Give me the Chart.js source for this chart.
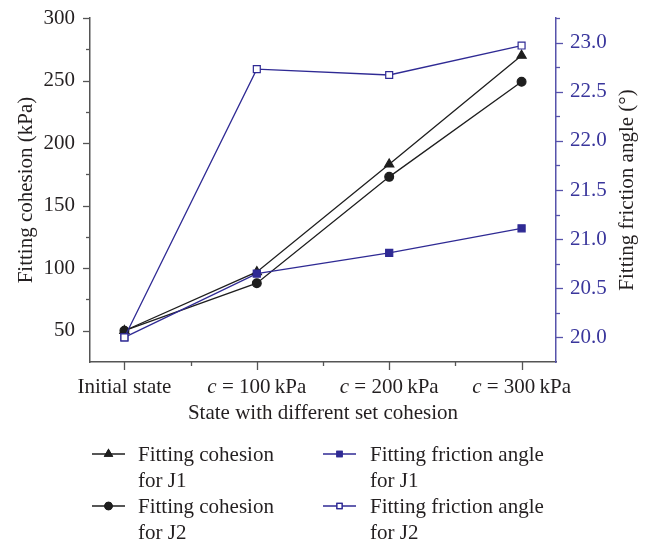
<!DOCTYPE html>
<html>
<head>
<meta charset="utf-8">
<script src="https://cdn.jsdelivr.net/npm/chart.js@4.4.0/dist/chart.umd.min.js"></script>
<style>
  html, body { margin: 0; padding: 0; background: #fff; }
  canvas { display: block; }
</style>
</head>
<body>
<canvas id="stateChart" width="649" height="541"></canvas>
<script>
// data
const categories = ['Initial state', 'c = 100\u2009kPa', 'c = 200\u2009kPa', 'c = 300\u2009kPa'];
const cohesionJ1 = [50, 97, 183, 270];
const cohesionJ2 = [50, 88, 173, 249];
const frictionJ1 = [20.0, 20.65, 20.86, 21.11];
const frictionJ2 = [20.0, 22.73, 22.67, 22.97];
const leftTicks = [25, 50, 75, 100, 125, 150, 175, 200, 225, 250, 275, 300];
const rightTicks = [19.75, 20, 20.25, 20.5, 20.75, 21, 21.25, 21.5, 21.75, 22, 22.25, 22.5, 22.75, 23, 23.25];
const legendLabels = [
  ['Fitting cohesion', 'for J1'],
  ['Fitting cohesion', 'for J2'],
  ['Fitting friction angle', 'for J1'],
  ['Fitting friction angle', 'for J2']
];

const BLACK = '#1e1e1e';
const BLUE = '#2f2a94';
const RIGHT_AXIS = '#5753ab';
const TEXT = '#231f20';
const FONT = '"Liberation Serif", "Times New Roman", serif';
const FS = 21;

Chart.defaults.font.family = FONT;
Chart.defaults.font.size = FS;
Chart.defaults.color = TEXT;

const toPoints = vals => vals.map((v, i) => ({ x: i, y: v }));
const isHalf = v => Math.abs(v * 2 - Math.round(v * 2)) < 1e-6;

// short minor ticks, longer major ticks, all pointing outward
const tickMarks = {
  id: 'tickMarks',
  afterDraw(chart) {
    const ctx = chart.ctx;
    const area = chart.chartArea;
    const { x, y, y1 } = chart.scales;
    ctx.save();
    ctx.lineWidth = 1.3;

    ctx.strokeStyle = '#555';
    y.ticks.forEach(t => {
      if (t.value <= y.min) return;
      const len = t.value % 50 === 0 ? 7 : 4;
      const py = Math.round(y.getPixelForValue(t.value)) + 0.5;
      ctx.beginPath(); ctx.moveTo(area.left, py); ctx.lineTo(area.left - len, py); ctx.stroke();
    });
    x.ticks.forEach(t => {
      const len = Number.isInteger(t.value) ? 8 : 4;
      const px = Math.round(x.getPixelForValue(t.value)) + 0.5;
      ctx.beginPath(); ctx.moveTo(px, area.bottom); ctx.lineTo(px, area.bottom + len); ctx.stroke();
    });

    ctx.strokeStyle = RIGHT_AXIS;
    y1.ticks.forEach(t => {
      if (t.value <= y1.min + 1e-9) return;
      const len = isHalf(t.value) ? 7 : 4;
      const py = Math.round(y1.getPixelForValue(t.value)) + 0.5;
      ctx.beginPath(); ctx.moveTo(area.right, py); ctx.lineTo(area.right + len, py); ctx.stroke();
    });

    // category labels, with the italic c
    ctx.fillStyle = TEXT;
    ctx.textBaseline = 'alphabetic';
    ctx.textAlign = 'left';
    const reg = FS + 'px ' + FONT;
    const ita = 'italic ' + FS + 'px ' + FONT;
    categories.forEach((label, i) => {
      const cx = x.getPixelForValue(i);
      const by = area.bottom + 31;
      if (label.startsWith('c ')) {
        const rest = label.slice(1);
        ctx.font = ita;
        const wc = ctx.measureText('c').width;
        ctx.font = reg;
        const wr = ctx.measureText(rest).width;
        const x0 = cx - (wc + wr) / 2;
        ctx.font = ita;
        ctx.fillText('c', x0, by);
        ctx.font = reg;
        ctx.fillText(rest, x0 + wc, by);
      } else {
        ctx.font = reg;
        ctx.fillText(label, cx - ctx.measureText(label).width / 2, by);
      }
    });

    // right axis title, reading upward
    ctx.save();
    ctx.translate(627, (area.top + area.bottom) / 2);
    ctx.rotate(-Math.PI / 2);
    ctx.textAlign = 'center';
    ctx.textBaseline = 'middle';
    ctx.font = reg;
    ctx.fillText('Fitting friction angle (°)', 0, 0);
    ctx.restore();

    ctx.restore();
  }
};

// two-column legend with wrapped labels
const legendBlock = {
  id: 'legendBlock',
  afterDraw(chart) {
    const ctx = chart.ctx;
    const cols = [{ lx: 92, tx: 138 }, { lx: 323, tx: 370 }];
    const rowBase = [461, 513];
    ctx.save();
    chart.data.datasets.forEach((ds, i) => {
      const col = cols[Math.floor(i / 2)];
      const base = rowBase[i % 2];
      const my = base - 7;
      ctx.strokeStyle = ds.borderColor;
      ctx.lineWidth = 1.3;
      ctx.beginPath(); ctx.moveTo(col.lx, my); ctx.lineTo(col.lx + 33, my); ctx.stroke();
      Chart.helpers.drawPoint(ctx, {
        pointStyle: ds.pointStyle, radius: ds.pointStyle === 'triangle' ? 4.2 : 3.6, borderWidth: 1.2
      }, col.lx + 16.5, my);
      ctx.fillStyle = ds.pointBackgroundColor;
      ctx.strokeStyle = ds.borderColor;
      ctx.fill(); ctx.stroke();
      ctx.fillStyle = TEXT;
      ctx.font = FS + 'px ' + FONT;
      ctx.textAlign = 'left';
      ctx.textBaseline = 'alphabetic';
      ctx.fillText(legendLabels[i][0], col.tx, base);
      ctx.fillText(legendLabels[i][1], col.tx, base + 25.5);
    });
    ctx.restore();
  }
};

// keep the plot box where the figure has it
function fitVertical(width) {
  return scale => {
    scale.width = width;
    scale.paddingTop = 0;
    scale.paddingBottom = 0;
  };
}

const ctx = document.getElementById('stateChart').getContext('2d');
const stateChart = new Chart(ctx, {
  type: 'line',
  data: {
    datasets: [
      {
        label: 'Fitting cohesion for J1',
        data: toPoints(cohesionJ1),
        yAxisID: 'y',
        order: 2,
        borderColor: BLACK,
        pointBackgroundColor: BLACK,
        pointStyle: 'triangle',
        pointRadius: 5.3
      },
      {
        label: 'Fitting cohesion for J2',
        data: toPoints(cohesionJ2),
        yAxisID: 'y',
        order: 3,
        borderColor: BLACK,
        pointBackgroundColor: BLACK,
        pointStyle: 'circle',
        pointRadius: 4.4
      },
      {
        label: 'Fitting friction angle for J1',
        data: toPoints(frictionJ1),
        yAxisID: 'y1',
        order: 1,
        borderColor: BLUE,
        pointBackgroundColor: BLUE,
        pointStyle: 'rect',
        pointRadius: 5
      },
      {
        label: 'Fitting friction angle for J2',
        data: toPoints(frictionJ2),
        yAxisID: 'y1',
        order: 0,
        borderColor: BLUE,
        pointBackgroundColor: '#ffffff',
        pointStyle: 'rect',
        pointRadius: 4.9
      }
    ]
  },
  options: {
    responsive: false,
    animation: false,
    layout: { padding: { left: 0, right: 0, top: 18, bottom: 115 } },
    elements: {
      line: { borderWidth: 1.3, tension: 0, fill: false },
      point: { borderWidth: 1.2, hoverRadius: 5 }
    },
    plugins: {
      legend: { display: false },
      tooltip: { enabled: false }
    },
    scales: {
      x: {
        type: 'linear',
        min: -0.26,
        max: 3.26,
        afterBuildTicks(scale) {
          scale.ticks = [0, 0.5, 1, 1.5, 2, 2.5, 3].map(v => ({ value: v }));
        },
        afterFit(scale) {
          scale.height = 64;
          scale.paddingLeft = 0;
          scale.paddingRight = 0;
        },
        ticks: { display: false },
        grid: { drawOnChartArea: false, drawTicks: false },
        border: { display: true, color: '#555', width: 1.5 },
        title: {
          display: true,
          text: 'State with different set cohesion',
          padding: { top: 0, bottom: 0 }
        }
      },
      y: {
        position: 'left',
        min: 25,
        max: 300,
        afterBuildTicks(scale) {
          scale.ticks = leftTicks.map(v => ({ value: v }));
        },
        afterFit: fitVertical(90),
        ticks: {
          padding: 15,
          autoSkip: false,
          callback: v => (v % 50 === 0 ? v : '')
        },
        grid: { drawOnChartArea: false, drawTicks: false },
        border: { display: true, color: '#555', width: 1.5 },
        title: {
          display: true,
          text: 'Fitting cohesion (kPa)',
          padding: { top: 14, bottom: 0 }
        }
      },
      y1: {
        position: 'right',
        min: 19.75,
        max: 23.25,
        afterBuildTicks(scale) {
          scale.ticks = rightTicks.map(v => ({ value: v }));
        },
        afterFit: fitVertical(93),
        ticks: {
          padding: 14,
          autoSkip: false,
          color: '#3a369c',
          callback: v => (isHalf(v) ? v.toFixed(1) : '')
        },
        grid: { drawOnChartArea: false, drawTicks: false },
        border: { display: true, color: RIGHT_AXIS, width: 1.5 }
      }
    }
  },
  plugins: [tickMarks, legendBlock]
});
</script>
</body>
</html>
